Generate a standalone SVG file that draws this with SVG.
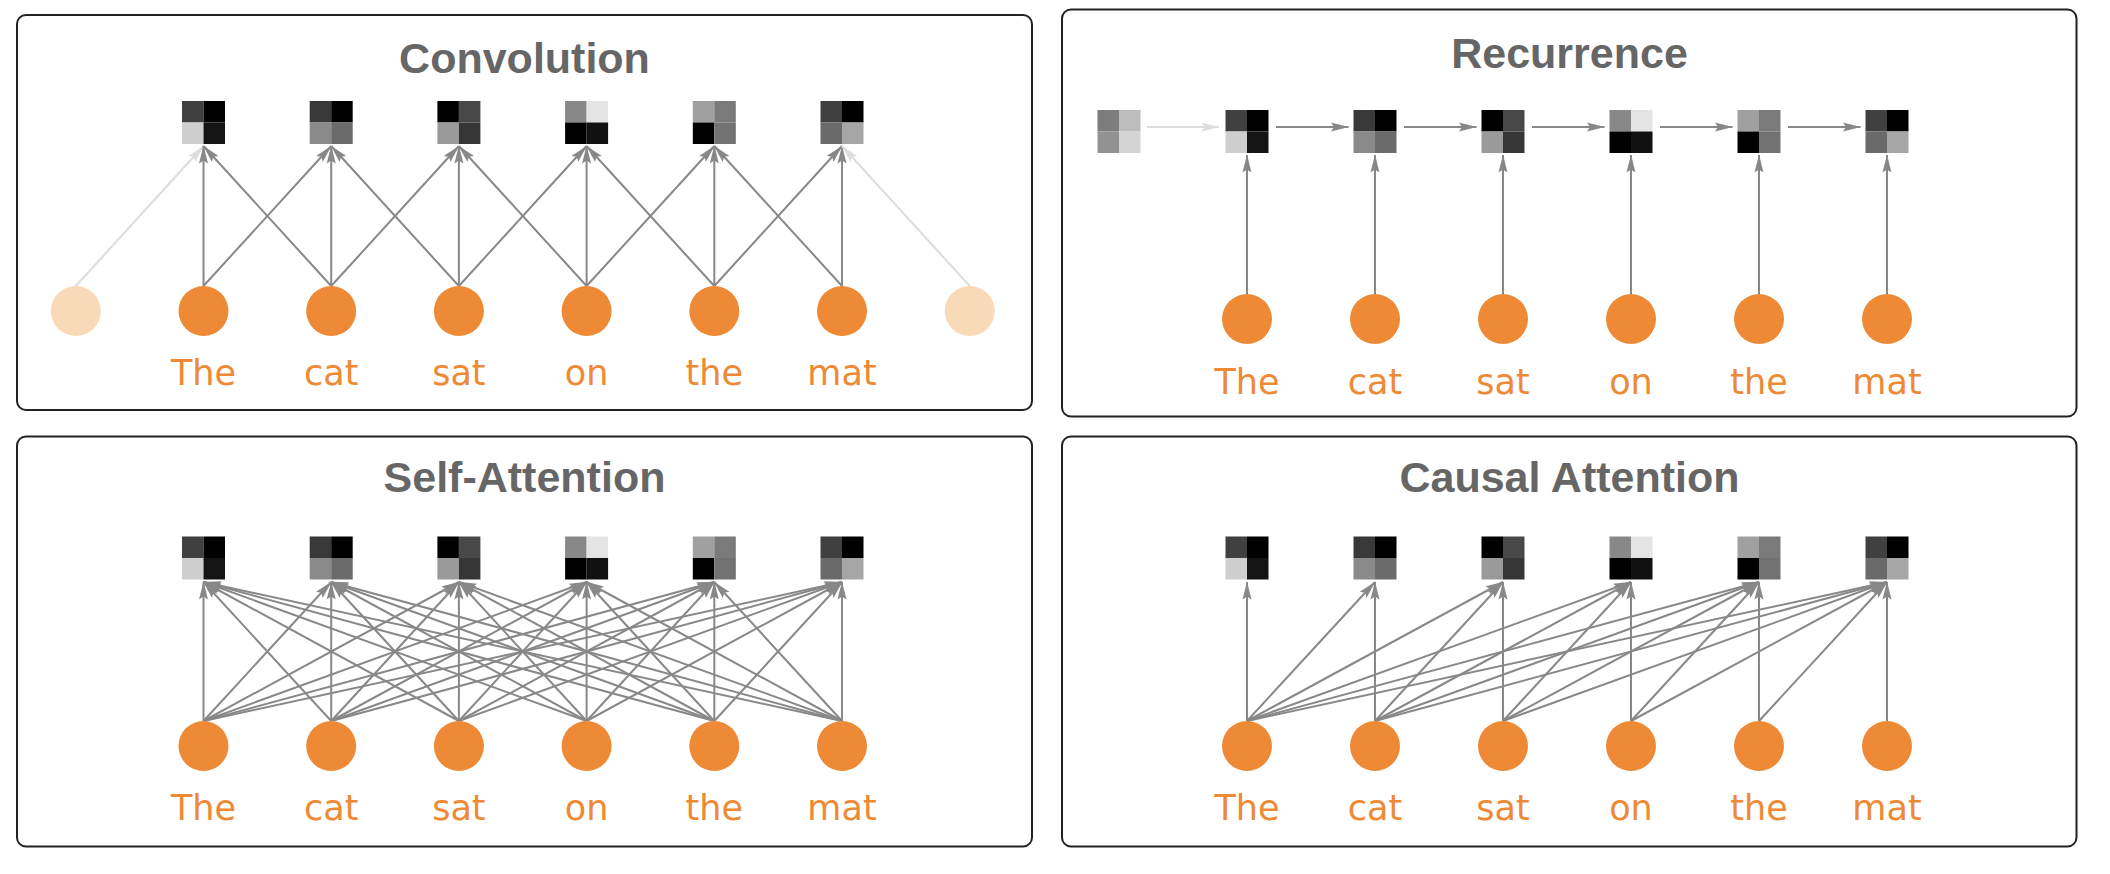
<svg xmlns="http://www.w3.org/2000/svg" xmlns:xlink="http://www.w3.org/1999/xlink" width="2110" height="874" viewBox="0 0 2110 874">
<style>
.panel{fill:#fff;stroke:#222;stroke-width:2}
.title{font-family:"Liberation Sans",Arial,sans-serif;font-weight:bold;font-size:43px;fill:#666;text-anchor:middle}
.lab{font-family:"DejaVu Sans",sans-serif;font-size:35px;fill:#ee8a35;text-anchor:middle}
.tok{fill:#ee8a35}
.pad{fill:#f9dab8}
.a{stroke:#888;stroke-width:2;fill:none;marker-end:url(#ah)}
.al{stroke:#ddd;stroke-width:2;fill:none;marker-end:url(#ahl)}
</style>
<defs>
<marker id="ah" markerUnits="userSpaceOnUse" markerWidth="18" markerHeight="10" viewBox="0 0 18 10" refX="17.5" refY="5" orient="auto"><path d="M0,0.5 L18,5 L0,9.5 L3,5 z" fill="#888"/></marker>
<marker id="ahl" markerUnits="userSpaceOnUse" markerWidth="18" markerHeight="10" viewBox="0 0 18 10" refX="17.5" refY="5" orient="auto"><path d="M0,0.5 L18,5 L0,9.5 L3,5 z" fill="#ddd"/></marker>
<g id="G0"><rect x="-21.5" y="0" width="21.5" height="21.5" fill="#7d7d7d"/><rect x="0" y="0" width="21.5" height="21.5" fill="#bcbcbc"/><rect x="-21.5" y="21.5" width="21.5" height="21.5" fill="#929292"/><rect x="0" y="21.5" width="21.5" height="21.5" fill="#d4d4d4"/></g>
<g id="G1"><rect x="-21.5" y="0" width="21.5" height="21.5" fill="#404040"/><rect x="0" y="0" width="21.5" height="21.5" fill="#000"/><rect x="-21.5" y="21.5" width="21.5" height="21.5" fill="#cfcfcf"/><rect x="0" y="21.5" width="21.5" height="21.5" fill="#141414"/></g>
<g id="G2"><rect x="-21.5" y="0" width="21.5" height="21.5" fill="#383838"/><rect x="0" y="0" width="21.5" height="21.5" fill="#000"/><rect x="-21.5" y="21.5" width="21.5" height="21.5" fill="#8a8a8a"/><rect x="0" y="21.5" width="21.5" height="21.5" fill="#6b6b6b"/></g>
<g id="G3"><rect x="-21.5" y="0" width="21.5" height="21.5" fill="#000"/><rect x="0" y="0" width="21.5" height="21.5" fill="#484848"/><rect x="-21.5" y="21.5" width="21.5" height="21.5" fill="#9a9a9a"/><rect x="0" y="21.5" width="21.5" height="21.5" fill="#363636"/></g>
<g id="G4"><rect x="-21.5" y="0" width="21.5" height="21.5" fill="#888"/><rect x="0" y="0" width="21.5" height="21.5" fill="#e4e4e4"/><rect x="-21.5" y="21.5" width="21.5" height="21.5" fill="#000"/><rect x="0" y="21.5" width="21.5" height="21.5" fill="#111"/></g>
<g id="G5"><rect x="-21.5" y="0" width="21.5" height="21.5" fill="#a0a0a0"/><rect x="0" y="0" width="21.5" height="21.5" fill="#7a7a7a"/><rect x="-21.5" y="21.5" width="21.5" height="21.5" fill="#000"/><rect x="0" y="21.5" width="21.5" height="21.5" fill="#727272"/></g>
<g id="G6"><rect x="-21.5" y="0" width="21.5" height="21.5" fill="#404040"/><rect x="0" y="0" width="21.5" height="21.5" fill="#000"/><rect x="-21.5" y="21.5" width="21.5" height="21.5" fill="#6a6a6a"/><rect x="0" y="21.5" width="21.5" height="21.5" fill="#a6a6a6"/></g>
</defs>
<rect width="2110" height="874" fill="#fff"/>
<g id="panels">
<rect class="panel" x="17" y="15" width="1015" height="395" rx="9"/>
<rect class="panel" x="1062" y="9.5" width="1014.5" height="407" rx="9"/>
<rect class="panel" x="17" y="436.5" width="1015" height="410" rx="9"/>
<rect class="panel" x="1062" y="436.5" width="1014.5" height="410" rx="9"/>
</g>
<g id="connectors">
<!-- Convolution -->
<line class="al" x1="75.8" y1="286" x2="203.5" y2="146"/>
<line class="a" x1="203.5" y1="286" x2="203.5" y2="146"/>
<line class="a" x1="331.2" y1="286" x2="203.5" y2="146"/>
<line class="a" x1="203.5" y1="286" x2="331.2" y2="146"/>
<line class="a" x1="331.2" y1="286" x2="331.2" y2="146"/>
<line class="a" x1="458.9" y1="286" x2="331.2" y2="146"/>
<line class="a" x1="331.2" y1="286" x2="458.9" y2="146"/>
<line class="a" x1="458.9" y1="286" x2="458.9" y2="146"/>
<line class="a" x1="586.6" y1="286" x2="458.9" y2="146"/>
<line class="a" x1="458.9" y1="286" x2="586.6" y2="146"/>
<line class="a" x1="586.6" y1="286" x2="586.6" y2="146"/>
<line class="a" x1="714.3" y1="286" x2="586.6" y2="146"/>
<line class="a" x1="586.6" y1="286" x2="714.3" y2="146"/>
<line class="a" x1="714.3" y1="286" x2="714.3" y2="146"/>
<line class="a" x1="842" y1="286" x2="714.3" y2="146"/>
<line class="a" x1="714.3" y1="286" x2="842" y2="146"/>
<line class="a" x1="842" y1="286" x2="842" y2="146"/>
<line class="al" x1="969.7" y1="286" x2="842" y2="146"/>
<!-- Recurrence -->
<line class="al" x1="1147" y1="127" x2="1219" y2="127"/>
<line class="a" x1="1276" y1="127" x2="1348.5" y2="127"/>
<line class="a" x1="1404" y1="127" x2="1476.5" y2="127"/>
<line class="a" x1="1532" y1="127" x2="1604.5" y2="127"/>
<line class="a" x1="1660" y1="127" x2="1732.5" y2="127"/>
<line class="a" x1="1788" y1="127" x2="1860.5" y2="127"/>
<line class="a" x1="1247" y1="294" x2="1247" y2="155"/>
<line class="a" x1="1375" y1="294" x2="1375" y2="155"/>
<line class="a" x1="1503" y1="294" x2="1503" y2="155"/>
<line class="a" x1="1631" y1="294" x2="1631" y2="155"/>
<line class="a" x1="1759" y1="294" x2="1759" y2="155"/>
<line class="a" x1="1887" y1="294" x2="1887" y2="155"/>
<!-- Self-Attention -->
<line class="a" x1="203.5" y1="721" x2="203.5" y2="582"/>
<line class="a" x1="203.5" y1="721" x2="331.2" y2="582"/>
<line class="a" x1="203.5" y1="721" x2="458.9" y2="582"/>
<line class="a" x1="203.5" y1="721" x2="586.6" y2="582"/>
<line class="a" x1="203.5" y1="721" x2="714.3" y2="582"/>
<line class="a" x1="203.5" y1="721" x2="842" y2="582"/>
<line class="a" x1="331.2" y1="721" x2="203.5" y2="582"/>
<line class="a" x1="331.2" y1="721" x2="331.2" y2="582"/>
<line class="a" x1="331.2" y1="721" x2="458.9" y2="582"/>
<line class="a" x1="331.2" y1="721" x2="586.6" y2="582"/>
<line class="a" x1="331.2" y1="721" x2="714.3" y2="582"/>
<line class="a" x1="331.2" y1="721" x2="842" y2="582"/>
<line class="a" x1="458.9" y1="721" x2="203.5" y2="582"/>
<line class="a" x1="458.9" y1="721" x2="331.2" y2="582"/>
<line class="a" x1="458.9" y1="721" x2="458.9" y2="582"/>
<line class="a" x1="458.9" y1="721" x2="586.6" y2="582"/>
<line class="a" x1="458.9" y1="721" x2="714.3" y2="582"/>
<line class="a" x1="458.9" y1="721" x2="842" y2="582"/>
<line class="a" x1="586.6" y1="721" x2="203.5" y2="582"/>
<line class="a" x1="586.6" y1="721" x2="331.2" y2="582"/>
<line class="a" x1="586.6" y1="721" x2="458.9" y2="582"/>
<line class="a" x1="586.6" y1="721" x2="586.6" y2="582"/>
<line class="a" x1="586.6" y1="721" x2="714.3" y2="582"/>
<line class="a" x1="586.6" y1="721" x2="842" y2="582"/>
<line class="a" x1="714.3" y1="721" x2="203.5" y2="582"/>
<line class="a" x1="714.3" y1="721" x2="331.2" y2="582"/>
<line class="a" x1="714.3" y1="721" x2="458.9" y2="582"/>
<line class="a" x1="714.3" y1="721" x2="586.6" y2="582"/>
<line class="a" x1="714.3" y1="721" x2="714.3" y2="582"/>
<line class="a" x1="714.3" y1="721" x2="842" y2="582"/>
<line class="a" x1="842" y1="721" x2="203.5" y2="582"/>
<line class="a" x1="842" y1="721" x2="331.2" y2="582"/>
<line class="a" x1="842" y1="721" x2="458.9" y2="582"/>
<line class="a" x1="842" y1="721" x2="586.6" y2="582"/>
<line class="a" x1="842" y1="721" x2="714.3" y2="582"/>
<line class="a" x1="842" y1="721" x2="842" y2="582"/>
<!-- Causal Attention -->
<line class="a" x1="1247" y1="721" x2="1247" y2="582"/>
<line class="a" x1="1247" y1="721" x2="1375" y2="582"/>
<line class="a" x1="1247" y1="721" x2="1503" y2="582"/>
<line class="a" x1="1247" y1="721" x2="1631" y2="582"/>
<line class="a" x1="1247" y1="721" x2="1759" y2="582"/>
<line class="a" x1="1247" y1="721" x2="1887" y2="582"/>
<line class="a" x1="1375" y1="721" x2="1375" y2="582"/>
<line class="a" x1="1375" y1="721" x2="1503" y2="582"/>
<line class="a" x1="1375" y1="721" x2="1631" y2="582"/>
<line class="a" x1="1375" y1="721" x2="1759" y2="582"/>
<line class="a" x1="1375" y1="721" x2="1887" y2="582"/>
<line class="a" x1="1503" y1="721" x2="1503" y2="582"/>
<line class="a" x1="1503" y1="721" x2="1631" y2="582"/>
<line class="a" x1="1503" y1="721" x2="1759" y2="582"/>
<line class="a" x1="1503" y1="721" x2="1887" y2="582"/>
<line class="a" x1="1631" y1="721" x2="1631" y2="582"/>
<line class="a" x1="1631" y1="721" x2="1759" y2="582"/>
<line class="a" x1="1631" y1="721" x2="1887" y2="582"/>
<line class="a" x1="1759" y1="721" x2="1759" y2="582"/>
<line class="a" x1="1759" y1="721" x2="1887" y2="582"/>
<line class="a" x1="1887" y1="721" x2="1887" y2="582"/>
</g>
<g id="convolution">
<text class="title" x="524.5" y="73">Convolution</text>
<g id="conv-states">
<use xlink:href="#G1" x="203.5" y="101"/><use xlink:href="#G2" x="331.2" y="101"/><use xlink:href="#G3" x="458.9" y="101"/><use xlink:href="#G4" x="586.6" y="101"/><use xlink:href="#G5" x="714.3" y="101"/><use xlink:href="#G6" x="842" y="101"/>
</g>
<g id="conv-tokens">
<circle class="pad" cx="75.8" cy="311" r="25"/>
<circle class="tok" cx="203.5" cy="311" r="25"/><circle class="tok" cx="331.2" cy="311" r="25"/><circle class="tok" cx="458.9" cy="311" r="25"/><circle class="tok" cx="586.6" cy="311" r="25"/><circle class="tok" cx="714.3" cy="311" r="25"/><circle class="tok" cx="842" cy="311" r="25"/>
<circle class="pad" cx="969.7" cy="311" r="25"/>
</g>
<g id="conv-labels">
<text class="lab" x="203.5" y="385">The</text><text class="lab" x="331.2" y="385">cat</text><text class="lab" x="458.9" y="385">sat</text><text class="lab" x="586.6" y="385">on</text><text class="lab" x="714.3" y="385">the</text><text class="lab" x="842" y="385">mat</text>
</g>
</g>
<g id="recurrence">
<text class="title" x="1569.5" y="68">Recurrence</text>
<g id="rec-states">
<use xlink:href="#G0" x="1119" y="110"/>
<use xlink:href="#G1" x="1247" y="110"/><use xlink:href="#G2" x="1375" y="110"/><use xlink:href="#G3" x="1503" y="110"/><use xlink:href="#G4" x="1631" y="110"/><use xlink:href="#G5" x="1759" y="110"/><use xlink:href="#G6" x="1887" y="110"/>
</g>
<g id="rec-tokens">
<circle class="tok" cx="1247" cy="319" r="25"/><circle class="tok" cx="1375" cy="319" r="25"/><circle class="tok" cx="1503" cy="319" r="25"/><circle class="tok" cx="1631" cy="319" r="25"/><circle class="tok" cx="1759" cy="319" r="25"/><circle class="tok" cx="1887" cy="319" r="25"/>
</g>
<g id="rec-labels">
<text class="lab" x="1247" y="394">The</text><text class="lab" x="1375" y="394">cat</text><text class="lab" x="1503" y="394">sat</text><text class="lab" x="1631" y="394">on</text><text class="lab" x="1759" y="394">the</text><text class="lab" x="1887" y="394">mat</text>
</g>
</g>
<g id="self-attention">
<text class="title" x="524.5" y="492">Self-Attention</text>
<g id="sa-states">
<use xlink:href="#G1" x="203.5" y="536.5"/><use xlink:href="#G2" x="331.2" y="536.5"/><use xlink:href="#G3" x="458.9" y="536.5"/><use xlink:href="#G4" x="586.6" y="536.5"/><use xlink:href="#G5" x="714.3" y="536.5"/><use xlink:href="#G6" x="842" y="536.5"/>
</g>
<g id="sa-tokens">
<circle class="tok" cx="203.5" cy="746" r="25"/><circle class="tok" cx="331.2" cy="746" r="25"/><circle class="tok" cx="458.9" cy="746" r="25"/><circle class="tok" cx="586.6" cy="746" r="25"/><circle class="tok" cx="714.3" cy="746" r="25"/><circle class="tok" cx="842" cy="746" r="25"/>
</g>
<g id="sa-labels">
<text class="lab" x="203.5" y="820">The</text><text class="lab" x="331.2" y="820">cat</text><text class="lab" x="458.9" y="820">sat</text><text class="lab" x="586.6" y="820">on</text><text class="lab" x="714.3" y="820">the</text><text class="lab" x="842" y="820">mat</text>
</g>
</g>
<g id="causal-attention">
<text class="title" x="1569.5" y="492">Causal Attention</text>
<g id="ca-states">
<use xlink:href="#G1" x="1247" y="536.5"/><use xlink:href="#G2" x="1375" y="536.5"/><use xlink:href="#G3" x="1503" y="536.5"/><use xlink:href="#G4" x="1631" y="536.5"/><use xlink:href="#G5" x="1759" y="536.5"/><use xlink:href="#G6" x="1887" y="536.5"/>
</g>
<g id="ca-tokens">
<circle class="tok" cx="1247" cy="746" r="25"/><circle class="tok" cx="1375" cy="746" r="25"/><circle class="tok" cx="1503" cy="746" r="25"/><circle class="tok" cx="1631" cy="746" r="25"/><circle class="tok" cx="1759" cy="746" r="25"/><circle class="tok" cx="1887" cy="746" r="25"/>
</g>
<g id="ca-labels">
<text class="lab" x="1247" y="820">The</text><text class="lab" x="1375" y="820">cat</text><text class="lab" x="1503" y="820">sat</text><text class="lab" x="1631" y="820">on</text><text class="lab" x="1759" y="820">the</text><text class="lab" x="1887" y="820">mat</text>
</g>
</g>
</svg>
